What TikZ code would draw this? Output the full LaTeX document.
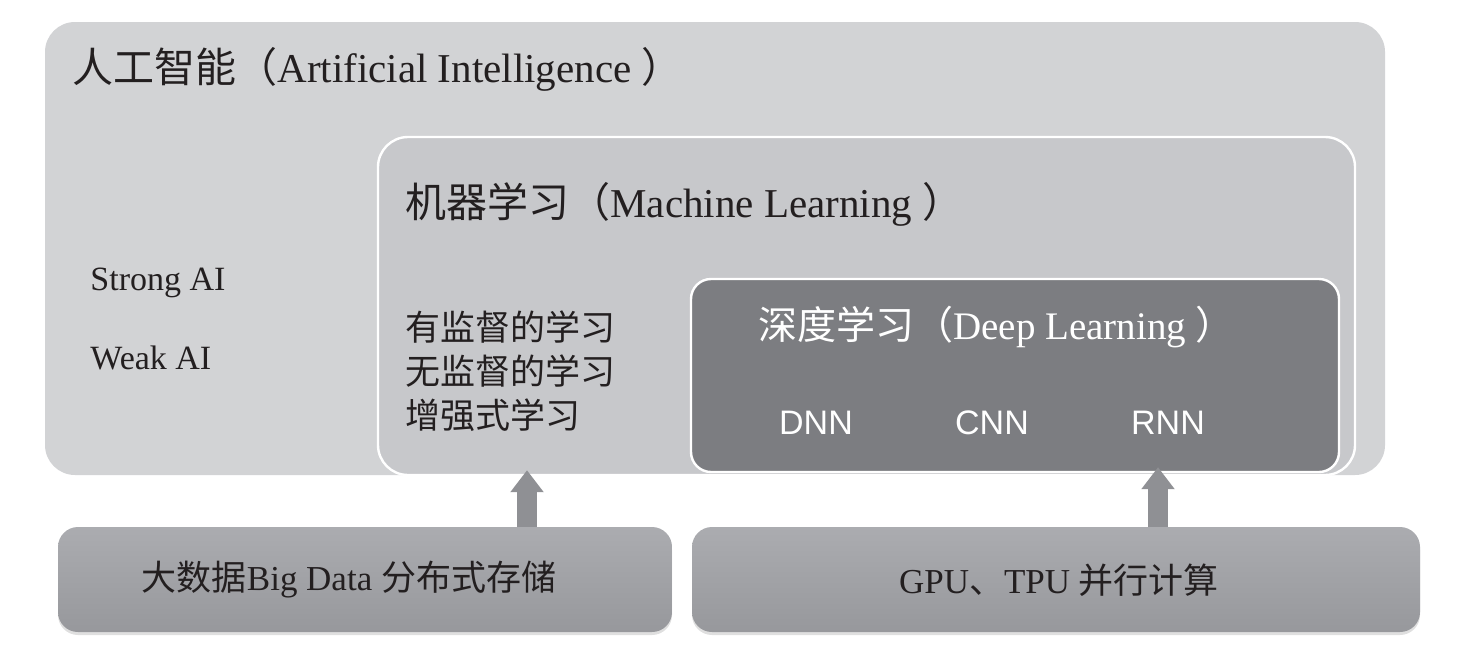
\documentclass[tikz,border=0pt]{standalone}
\usepackage{fontspec}
\setmainfont{Liberation Serif}
\newfontfamily\cjk{Noto Sans CJK SC}
\newfontfamily\arialfont{Liberation Sans}
\usetikzlibrary{arrows.meta, positioning, fit, shadows}

\definecolor{aigray}{HTML}{D2D3D5}
\definecolor{mlgray}{HTML}{C7C8CB}
\definecolor{dlgray}{HTML}{7C7D81}
\definecolor{basetop}{HTML}{ABACB0}
\definecolor{basebot}{HTML}{97989C}
\definecolor{arrowgray}{HTML}{8F9094}
\definecolor{inkgray}{HTML}{231F20}

\begin{document}
\begin{tikzpicture}[x=0.5pt, y=-0.5pt,
    aibox/.style={rectangle, rounded corners=15pt, fill=aigray, inner sep=0pt},
    mlbox/.style={rectangle, rounded corners=15pt, fill=mlgray, draw=white, line width=1.2pt, inner sep=0pt},
    dlbox/.style={rectangle, rounded corners=10pt, fill=dlgray, draw=white, line width=1.2pt, inner sep=0pt},
    basebox/.style={rectangle, rounded corners=10pt, top color=basetop, bottom color=basebot, inner sep=0pt,
        drop shadow={shadow xshift=0pt, shadow yshift=-1.5pt, opacity=0.25}},
    basetext/.style={inner sep=0pt, text=inkgray, font=\fontsize{17.5}{21}\selectfont},
    title/.style={anchor=base west, inner sep=0pt, text=inkgray, font=\fontsize{20.5}{24}\selectfont},
    label/.style={anchor=base west, inner sep=0pt, text=inkgray, font=\fontsize{17}{20}\selectfont},
    netname/.style={anchor=base, inner sep=0pt, text=white, font=\arialfont\fontsize{17}{20}\selectfont},
    uparrow/.style={-{Triangle[length=11pt, width=16pt]}, line width=10pt, draw=arrowgray}
]
\useasboundingbox (0,0) rectangle (1459,659);

% nested fields
\node[aibox, fit={(45,22) (1385,475)}] (ai) {};
\node[mlbox, fit={(378,137) (1355,475)}] (ml) {};
\node[dlbox, fit={(691,279) (1339,472)}] (dl) {};

% titles
\node[title] (aititle) at (72,82) {{\cjk 人工智能（}Artificial Intelligence {\cjk ）}};
\node[title] (mltitle) at (405,217) {{\cjk 机器学习（}Machine Learning {\cjk ）}};
\node[title, text=white, font=\fontsize{19.5}{23}\selectfont] (dltitle) at (758,339) {{\cjk 深度学习（}Deep Learning {\cjk ）}};

\node[label] (strong) at (90,290) {Strong AI};
\node[label] (weak) at (90,369) {Weak AI};

\node[anchor=west, inner sep=0pt, align=left, text=inkgray, font=\cjk\fontsize{17.5}{22}\selectfont] (methods) at (405,371)
    {有监督的学习\\无监督的学习\\增强式学习};

\node[netname] (dnn) at (816,434) {DNN};
\node[netname] (cnn) at (992,434) {CNN};
\node[netname] (rnn) at (1168,434) {RNN};

% foundations
\node[basebox, fit={(58,527) (672,632)}] (data) {};
\node[basebox, fit={(692,527) (1420,632)}] (gpu) {};
\node[basetext] (datatext) at (349,580) {{\cjk 大数据}Big Data {\cjk 分布式存储}};
\node[basetext] (gputext) at (1059,580) {GPU{\cjk 、}TPU {\cjk 并行计算}};

\coordinate (dataport) at (527,527);
\coordinate (gpuport) at (1158,527);
\draw[uparrow, shorten >=-3pt] (dataport) -- (dataport |- ml.south);
\draw[uparrow, shorten >=-3pt] (gpuport) -- (gpuport |- dl.south);
\end{tikzpicture}
\end{document}
